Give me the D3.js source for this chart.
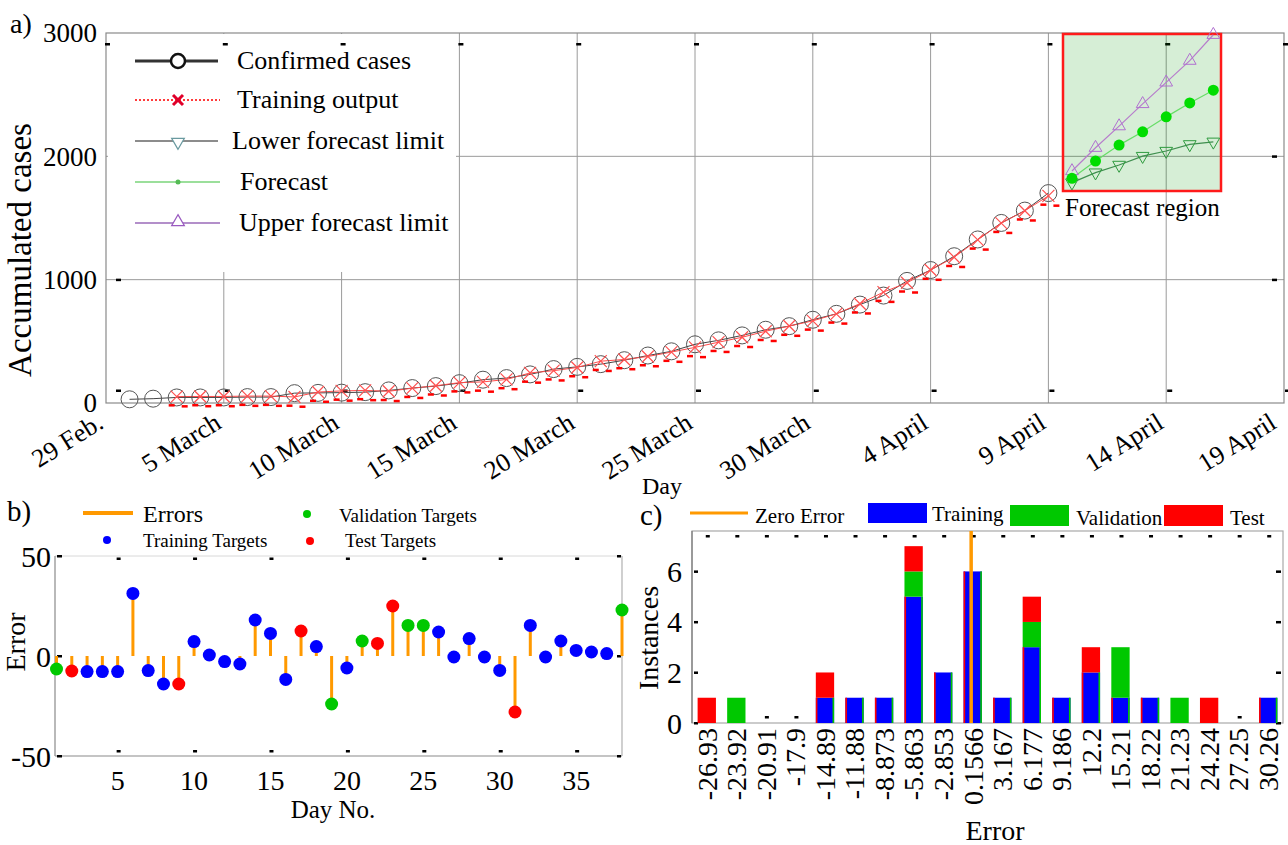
<!DOCTYPE html>
<html>
<head>
<meta charset="utf-8">
<script src="https://cdn.jsdelivr.net/npm/d3@7"></script>
<style>
  body { margin: 0; background: #fff; }
  svg { display: block; }
  svg text { font-family: "Liberation Serif", "DejaVu Serif", "Times New Roman", serif; fill: #000; }
</style>
</head>
<body>
<div id="container"></div>
<script>
let w = 1288;
let h = 845;

// ---------- a) accumulated cases ----------
const dateTicks = ["29 Feb.", "5 March", "10 March", "15 March", "20 March", "25 March",
                   "30 March", "4 April", "9 April", "14 April", "19 April"];
// 1 March .. 9 April
const confirmed = [30, 35, 45, 45, 45, 48, 48, 80, 82, 84, 88, 102, 121, 137, 161, 189, 202, 232, 275, 293,
                   315, 347, 385, 419, 476, 508, 548, 594, 623, 675, 723, 798, 871, 990, 1078, 1190, 1326, 1460, 1560, 1702];
// 3 March .. 9 April
const trainingOut = [52, 53, 53, 56, 56, 49, 89, 98, 102, 95, 120, 140, 165, 171, 191, 244, 262, 288, 339, 353,
                     377, 413, 451, 493, 533, 582, 624, 666, 723, 805, 899, 975, 1078, 1182, 1323, 1458, 1559, 1679];
// 10 April .. 16 April
const forecast   = [1822, 1962, 2091, 2199, 2320, 2433, 2536];
const lowerLimit = [1787, 1868, 1930, 2002, 2043, 2097, 2118];
const upperLimit = [1881, 2070, 2245, 2425, 2600, 2776, 2986];
const yTicksA = [0, 1000, 2000, 3000];

// ---------- b) errors per day ----------
const errorVals = [-6.5, -7.5, -7.8, -7.8, -7.8, 31.3, -7.3, -14, -14, 7.2, 0.5, -2.8, -4, 18, 11.3, -11.7, 12.5, 4.7, -24, -6,
                   7.5, 6.3, 25, 15.3, 15.3, 12, -0.5, 8.7, -0.5, -7.2, -28, 15.3, -0.5, 7.5, 2.8, 2, 1.2, 23];
const errorSet = ["val", "test", "train", "train", "train", "train", "train", "train", "test", "train",
                  "train", "train", "train", "train", "train", "train", "test", "train", "val", "train",
                  "val", "test", "test", "val", "val", "train", "train", "train", "train", "train",
                  "test", "train", "train", "train", "train", "train", "train", "val"];
const dayTicksB = [5, 10, 15, 20, 25, 30, 35];
const yTicksB = [-50, 0, 50];

// ---------- c) error histogram ----------
const binLabels = ["-26.93", "-23.92", "-20.91", "-17.9", "-14.89", "-11.88", "-8.873", "-5.863", "-2.853", "0.1566",
                   "3.167", "6.177", "9.186", "12.2", "15.21", "18.22", "21.23", "24.24", "27.25", "30.26"];
const trainCounts = [0, 0, 0, 0, 1, 1, 1, 5, 2, 6, 1, 3, 1, 2, 1, 1, 0, 0, 0, 1];
const valCounts   = [0, 1, 0, 0, 0, 0, 0, 1, 0, 0, 0, 1, 0, 0, 2, 0, 1, 0, 0, 0];
const testCounts  = [1, 0, 0, 0, 1, 0, 0, 1, 0, 0, 0, 1, 0, 1, 0, 0, 0, 1, 0, 0];
const yTicksC = [0, 2, 4, 6];

const setColor = { train: "#0000ff", val: "#00c800", test: "#ff0000" };
const orange = "#ff9900";
const serif = "'Liberation Serif', 'DejaVu Serif', 'Times New Roman', serif";

let svg = d3.select("#container")
  .append("svg")
    .attr("width", w)
    .attr("height", h)
    .attr("font-family", serif)
    .style("background-color", "#fff");

function dash(g, x, y, wd, ht, col) {
  g.append("rect").attr("x", x).attr("y", y).attr("width", wd || 4).attr("height", ht || 2)
    .attr("fill", col || "#000");
}

// =================== panel a ===================
const t0 = new Date(2020, 1, 29);
const day = i => d3.timeDay.offset(t0, i);
const xA = d3.scaleTime().domain([t0, day(50)]).range([106, 1284]);
const yA = d3.scaleLinear().domain([0, 3000]).range([403, 33]);
const gA = svg.append("g");

const tickDays = d3.range(0, 51, 5);
gA.selectAll(".vgrid").data(tickDays.slice(1, -1)).join("line")
  .attr("x1", d => xA(day(d))).attr("x2", d => xA(day(d)))
  .attr("y1", yA(3000)).attr("y2", yA(0))
  .attr("stroke", "#9a9a9a").attr("stroke-width", 1);
gA.selectAll(".hgrid").data([1000, 2000]).join("line")
  .attr("x1", xA(day(0))).attr("x2", xA(day(50)))
  .attr("y1", d => yA(d)).attr("y2", d => yA(d))
  .attr("stroke", "#9a9a9a").attr("stroke-width", 1);

// legend background hides the grid
gA.append("rect").attr("x", 108).attr("y", 34).attr("width", 348).attr("height", 238).attr("fill", "#fff");

gA.append("rect").attr("x", xA(day(0))).attr("y", yA(3000))
  .attr("width", xA(day(50)) - xA(day(0))).attr("height", yA(0) - yA(3000))
  .attr("fill", "none").attr("stroke", "#8a8a8a").attr("stroke-width", 1.2);

tickDays.forEach(d => {
  dash(gA, xA(day(d)) - 1, 43, 5, 2.5);
  if (d > 0) dash(gA, xA(day(d)) + 1, 389.5, 5, 2.5);
});
[1000, 2000].forEach(v => dash(gA, 1272, yA(v) - 1, 5, 2.5));
dash(gA, 116, yA(1000) - 1, 5, 2.5);
dash(gA, 116, 389.5, 5, 2.5);

// forecast region box
gA.append("rect").attr("x", 1063).attr("y", 34).attr("width", 158).attr("height", 157)
  .attr("fill", "rgba(0,150,0,0.16)").attr("stroke", "#ff1a1a").attr("stroke-width", 2.5);
gA.append("text").attr("x", 1065).attr("y", 216).attr("font-size", 25).text("Forecast region");

const confData = confirmed.map((v, i) => ({ d: i + 1, v }));
const trainData = trainingOut.map((v, i) => ({ d: i + 3, v }));
const fcData = forecast.map((v, i) => ({ d: i + 41, v }));
const loData = lowerLimit.map((v, i) => ({ d: i + 41, v }));
const upData = upperLimit.map((v, i) => ({ d: i + 41, v }));

const lineA = d3.line().x(p => xA(day(p.d))).y(p => yA(p.v));

gA.append("path").datum(confData).attr("d", lineA).attr("fill", "none").attr("stroke", "#444").attr("stroke-width", 1);
gA.append("path").datum(trainData).attr("d", lineA).attr("fill", "none").attr("stroke", "#ff4a4a").attr("stroke-width", 1);

gA.selectAll(".conf").data(confData).join("circle")
  .attr("cx", p => xA(day(p.d))).attr("cy", p => yA(p.v)).attr("r", 8.5)
  .attr("fill", "none").attr("stroke", "#555").attr("stroke-width", 1);

const cross = "M-6,-6L6,6M-6,6L6,-6";
gA.selectAll(".trx").data(trainData).join("path")
  .attr("transform", p => `translate(${xA(day(p.d))},${yA(p.v)})`)
  .attr("d", cross).attr("fill", "none").attr("stroke", "#ff5050").attr("stroke-width", 1.2);
trainData.forEach(p => {
  const cx = xA(day(p.d)), cy = yA(p.v);
  dash(gA, cx - 8, cy + 7.5, 6, 2.5, "#ff0000");
  dash(gA, cx + 5, cy + 8.5, 6, 2.5, "#ff0000");
});

const triUp = d3.symbol().type(d3.symbolTriangle).size(70)();

gA.append("path").datum(upData).attr("d", lineA).attr("fill", "none").attr("stroke", "#b77ccc").attr("stroke-width", 1.2);
gA.append("path").datum(loData).attr("d", lineA).attr("fill", "none").attr("stroke", "#3f8f4f").attr("stroke-width", 1.2);
gA.append("path").datum(fcData).attr("d", lineA).attr("fill", "none").attr("stroke", "#66dd66").attr("stroke-width", 1.2);

gA.selectAll(".up").data(upData).join("path")
  .attr("transform", p => `translate(${xA(day(p.d))},${yA(p.v)})`)
  .attr("d", triUp).attr("fill", "none").attr("stroke", "#b070d0").attr("stroke-width", 1);
gA.selectAll(".lo").data(loData).join("path")
  .attr("transform", p => `translate(${xA(day(p.d))},${yA(p.v)}) rotate(180)`)
  .attr("d", triUp).attr("fill", "none").attr("stroke", "#2e9a3e").attr("stroke-width", 1);
gA.selectAll(".fc").data(fcData).join("circle")
  .attr("cx", p => xA(day(p.d))).attr("cy", p => yA(p.v)).attr("r", 5.5)
  .attr("fill", "#00dd00");

// legend a
const legA = gA.append("g");
const legRows = [
  { y: 61, tx: 237, label: "Confirmed cases" },
  { y: 100, tx: 237, label: "Training output" },
  { y: 141, tx: 232, label: "Lower forecast limit" },
  { y: 182, tx: 240, label: "Forecast" },
  { y: 223, tx: 239, label: "Upper forecast limit" }
];
legA.append("line").attr("x1", 135).attr("x2", 218).attr("y1", 61).attr("y2", 61).attr("stroke", "#333").attr("stroke-width", 3);
legA.append("circle").attr("cx", 178).attr("cy", 61).attr("r", 7).attr("fill", "#fff").attr("stroke", "#111").attr("stroke-width", 2.5);
legA.append("line").attr("x1", 135).attr("x2", 220).attr("y1", 100).attr("y2", 100).attr("stroke", "#ff3b3b").attr("stroke-width", 2).attr("stroke-dasharray", "2,2");
legA.append("path").attr("transform", "translate(178,100)").attr("d", "M-5,-5L5,5M-5,5L5,-5").attr("stroke", "#e0002a").attr("stroke-width", 3);
legA.append("line").attr("x1", 135).attr("x2", 218).attr("y1", 141).attr("y2", 141).attr("stroke", "#666").attr("stroke-width", 1.5);
legA.append("path").attr("transform", "translate(178,142) rotate(180)").attr("d", triUp).attr("fill", "#fff").attr("stroke", "#6a9aa0").attr("stroke-width", 1.2);
legA.append("line").attr("x1", 135).attr("x2", 220).attr("y1", 182).attr("y2", 182).attr("stroke", "#9bdf9b").attr("stroke-width", 2);
legA.append("circle").attr("cx", 178).attr("cy", 182).attr("r", 2.5).attr("fill", "#55bb55");
legA.append("line").attr("x1", 135).attr("x2", 220).attr("y1", 223).attr("y2", 223).attr("stroke", "#9a6ab8").attr("stroke-width", 1.5);
legA.append("path").attr("transform", "translate(178,222)").attr("d", triUp).attr("fill", "#fff").attr("stroke", "#9a5ac0").attr("stroke-width", 1.2);
legA.selectAll("text").data(legRows).join("text")
  .attr("x", r => r.tx).attr("y", r => r.y + 8).attr("font-size", 26).text(r => r.label);

// axes text a
gA.selectAll(".ytA").data(yTicksA).join("text")
  .attr("x", 97).attr("y", d => yA(d)).attr("dy", "0.35em")
  .attr("text-anchor", "end").attr("font-size", 27).text(d => d);
gA.selectAll(".xtA").data(tickDays).join("text")
  .attr("transform", (d, i) => `translate(${xA(day(d)) + (i === tickDays.length - 1 ? -6 : -1)},${427}) rotate(-32)`)
  .attr("text-anchor", "end").attr("font-size", 26).text((d, i) => dateTicks[i]);
gA.append("text").attr("transform", "translate(31,250) rotate(-90)")
  .attr("text-anchor", "middle").attr("font-size", 33).text("Accumulated cases");
gA.append("text").attr("x", 642).attr("y", 494).attr("font-size", 24).text("Day");
svg.append("text").attr("x", 10).attr("y", 33).attr("font-size", 28).text("a)");

// =================== panel b ===================
const xB = d3.scaleLinear().domain([1, 38]).range([56.5, 622]);
const yB = d3.scaleLinear().domain([-50, 50]).range([756, 556]);
const gB = svg.append("g");
const errData = errorVals.map((v, i) => ({ d: i + 1, v, s: errorSet[i] }));

gB.append("line").attr("x1", 55).attr("x2", 622).attr("y1", yB(50)).attr("y2", yB(50)).attr("stroke", "#d8d8d8");
gB.append("line").attr("x1", 622).attr("x2", 622).attr("y1", yB(50)).attr("y2", yB(-50)).attr("stroke", "#b0b0b0").attr("stroke-width", 1.2);
gB.append("line").attr("x1", 55).attr("x2", 55).attr("y1", yB(50)).attr("y2", yB(-50)).attr("stroke", "#8a8a8a").attr("stroke-width", 1.2);
gB.append("line").attr("x1", 55).attr("x2", 622).attr("y1", yB(-50)).attr("y2", yB(-50)).attr("stroke", "#8a8a8a").attr("stroke-width", 1.2);
dayTicksB.forEach(d => {
  dash(gB, xB(d) - 1, 557.5, 4, 2.5);
  dash(gB, xB(d) - 1, 750, 4, 2.5);
});
yTicksB.forEach(v => { dash(gB, 57, yB(v) - 1, 5, 2.5); dash(gB, 617, yB(v) - 1, 4, 2.5); });

gB.selectAll(".stem").data(errData).join("line")
  .attr("x1", p => xB(p.d)).attr("x2", p => xB(p.d))
  .attr("y1", yB(0)).attr("y2", p => yB(p.v))
  .attr("stroke", orange).attr("stroke-width", 3);
gB.selectAll(".dot").data(errData).join("circle")
  .attr("cx", p => xB(p.d)).attr("cy", p => yB(p.v)).attr("r", 6.5)
  .attr("fill", p => setColor[p.s]);

gB.selectAll(".ytB").data(yTicksB).join("text")
  .attr("x", 51).attr("y", d => yB(d)).attr("dy", "0.35em")
  .attr("text-anchor", "end").attr("font-size", 30).text(d => d);
gB.selectAll(".xtB").data(dayTicksB).join("text")
  .attr("x", d => xB(d)).attr("y", 790)
  .attr("text-anchor", "middle").attr("font-size", 28).text(d => d);
gB.append("text").attr("x", 333).attr("y", 818).attr("text-anchor", "middle").attr("font-size", 25).text("Day No.");
gB.append("text").attr("transform", "translate(25,642) rotate(-90)")
  .attr("text-anchor", "middle").attr("font-size", 28).text("Error");
svg.append("text").attr("x", 7).attr("y", 521).attr("font-size", 29).text("b)");

// legend b
gB.append("line").attr("x1", 83).attr("x2", 133).attr("y1", 513).attr("y2", 513).attr("stroke", orange).attr("stroke-width", 4);
gB.append("text").attr("x", 143).attr("y", 522).attr("font-size", 24).text("Errors");
gB.append("circle").attr("cx", 107).attr("cy", 540).attr("r", 4).attr("fill", setColor.train);
gB.append("text").attr("x", 143).attr("y", 547).attr("font-size", 19).text("Training Targets");
gB.append("circle").attr("cx", 307).attr("cy", 514).attr("r", 4).attr("fill", setColor.val);
gB.append("text").attr("x", 339).attr("y", 522).attr("font-size", 19).text("Validation Targets");
gB.append("circle").attr("cx", 310).attr("cy", 541).attr("r", 4).attr("fill", setColor.test);
gB.append("text").attr("x", 345).attr("y", 547).attr("font-size", 19).text("Test Targets");

// =================== panel c ===================
const xC = d3.scaleBand().domain(binLabels).range([692, 1283]).paddingInner(0.38).paddingOuter(0.19);
const yC = d3.scaleLinear().domain([0, 7.6]).range([723, 531]);
const mid = lab => xC(lab) + xC.bandwidth() / 2;
const xErr = d3.scaleLinear().domain([+binLabels[0], +binLabels[binLabels.length - 1]])
  .range([mid(binLabels[0]), mid(binLabels[binLabels.length - 1])]);
const gC = svg.append("g");

gC.append("rect").attr("x", 692).attr("y", 531).attr("width", 591).attr("height", 192)
  .attr("fill", "none").attr("stroke", "#a8a8a8").attr("stroke-width", 1.2);
gC.append("line").attr("x1", 692).attr("x2", 692).attr("y1", 531).attr("y2", 723).attr("stroke", "#7a7a7a").attr("stroke-width", 1.2);
binLabels.forEach(lab => {
  dash(gC, mid(lab) - 1, 535, 4, 2.5);
  dash(gC, mid(lab) - 1, 716, 4, 2.5);
});
yTicksC.forEach(v => { dash(gC, 694, yC(v) - 1, 4, 2.5); dash(gC, 1276, yC(v) - 1, 5, 2.5); });

const stackRows = binLabels.map((lab, i) => ({ lab, train: trainCounts[i], val: valCounts[i], test: testCounts[i] }));
const series = d3.stack().keys(["train", "val", "test"])(stackRows);
const bw = xC.bandwidth();
series.forEach(s => {
  gC.selectAll(".bar-" + s.key).data(s).join("rect")
    .attr("x", p => xC(p.data.lab)).attr("width", bw)
    .attr("y", p => yC(p[1])).attr("height", p => yC(p[0]) - yC(p[1]))
    .attr("fill", setColor[s.key]);
});
// thin edge strips on training bars
series[0].filter(p => p[1] > p[0]).forEach(p => {
  const x0 = xC(p.data.lab);
  gC.append("rect").attr("x", x0).attr("y", yC(p[1])).attr("width", 1.6).attr("height", yC(p[0]) - yC(p[1])).attr("fill", "#ff0000");
  gC.append("rect").attr("x", x0 + bw - 1.6).attr("y", yC(p[1])).attr("width", 1.6).attr("height", yC(p[0]) - yC(p[1])).attr("fill", "#00c800");
});

gC.append("line").attr("x1", xErr(0)).attr("x2", xErr(0)).attr("y1", 531).attr("y2", 723)
  .attr("stroke", orange).attr("stroke-width", 3.5);

gC.selectAll(".ytC").data(yTicksC).join("text")
  .attr("x", 682).attr("y", d => yC(d)).attr("dy", "0.35em")
  .attr("text-anchor", "end").attr("font-size", 30).text(d => d);
gC.selectAll(".xtC").data(binLabels).join("text")
  .attr("transform", lab => `translate(${mid(lab)},728) rotate(-90)`)
  .attr("dy", "0.35em").attr("text-anchor", "end").attr("font-size", 28).text(lab => lab);
gC.append("text").attr("x", 995).attr("y", 840).attr("text-anchor", "middle").attr("font-size", 28).text("Error");
gC.append("text").attr("transform", "translate(658,638) rotate(-90)")
  .attr("text-anchor", "middle").attr("font-size", 28).text("Instances");
svg.append("text").attr("x", 640).attr("y", 525).attr("font-size", 29).text("c)");

// legend c
gC.append("line").attr("x1", 690).attr("x2", 748).attr("y1", 513).attr("y2", 513).attr("stroke", orange).attr("stroke-width", 3);
gC.append("text").attr("x", 755).attr("y", 523).attr("font-size", 21).text("Zero Error");
gC.append("rect").attr("x", 868).attr("y", 503).attr("width", 59).attr("height", 20).attr("fill", setColor.train);
gC.append("text").attr("x", 932).attr("y", 521).attr("font-size", 21).text("Training");
gC.append("rect").attr("x", 1010).attr("y", 505).attr("width", 59).attr("height", 21).attr("fill", setColor.val);
gC.append("text").attr("x", 1076).attr("y", 525).attr("font-size", 21).text("Validation");
gC.append("rect").attr("x", 1164).attr("y", 505).attr("width", 59).attr("height", 21).attr("fill", setColor.test);
gC.append("text").attr("x", 1230).attr("y", 525).attr("font-size", 21).text("Test");
</script>
</body>
</html>
